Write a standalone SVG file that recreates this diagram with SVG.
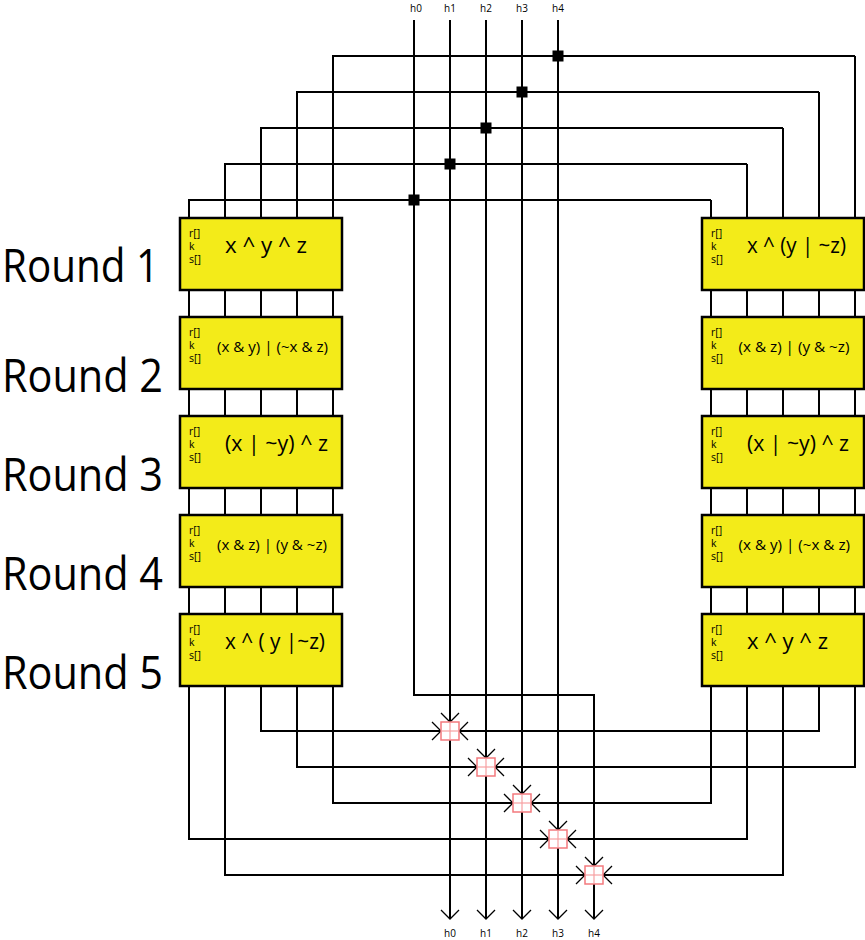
<svg xmlns="http://www.w3.org/2000/svg" width="865" height="940" viewBox="0 0 865 940">
<style>
text{font-family:"Open Sans","Noto Sans","Liberation Sans",sans-serif;fill:#000}
.ln{fill:none;stroke:#000;stroke-width:2}
.ar{marker-end:url(#arr)}
.box{fill:#f3eb19;stroke:#000;stroke-width:2.5}
.jn{fill:#000}
.addr{fill:#fff;stroke:#f3797d;stroke-width:1.5}
.addl{stroke:#f6a0a2;stroke-width:1.2}
.rnd{font-size:46px}
.lbl{font-size:10px;text-anchor:middle}
.reg{font-size:10.5px}
.f1{font-size:21px}
.f2{font-size:15px}
</style>
<defs>
<marker id="arr" viewBox="-10 -10 20 20" refX="0" refY="0" markerWidth="20" markerHeight="20" markerUnits="userSpaceOnUse" orient="auto" overflow="visible">
<path d="M-9,-9 L0,0 L-9,9" fill="none" stroke="#000" stroke-width="1.3"/>
</marker>
</defs>
<rect width="865" height="940" fill="#fff"/>

<g id="labels">
<text class="lbl" x="416" y="12">h0</text>
<text class="lbl" x="450" y="12">h1</text>
<text class="lbl" x="486" y="12">h2</text>
<text class="lbl" x="522" y="12">h3</text>
<text class="lbl" x="558" y="12">h4</text>
<text class="lbl" x="450" y="937">h0</text>
<text class="lbl" x="486" y="937">h1</text>
<text class="lbl" x="522" y="937">h2</text>
<text class="lbl" x="558" y="937">h3</text>
<text class="lbl" x="594" y="937">h4</text>
<text class="rnd" x="2" y="282" textLength="157" lengthAdjust="spacingAndGlyphs">Round 1</text>
<text class="rnd" x="2" y="392" textLength="161" lengthAdjust="spacingAndGlyphs">Round 2</text>
<text class="rnd" x="2" y="491" textLength="161" lengthAdjust="spacingAndGlyphs">Round 3</text>
<text class="rnd" x="2" y="590" textLength="161" lengthAdjust="spacingAndGlyphs">Round 4</text>
<text class="rnd" x="2" y="689" textLength="161" lengthAdjust="spacingAndGlyphs">Round 5</text>
</g>

<g id="connectors">
<path class="ln ar" d="M711,200 H189 V839 H549"/>
<path class="ln ar" d="M711,200 V803 H531"/>
<path class="ln ar" d="M747,164 H225 V875 H585"/>
<path class="ln ar" d="M747,164 V839 H567"/>
<path class="ln ar" d="M783,128 H261 V731 H441"/>
<path class="ln ar" d="M783,128 V875 H603"/>
<path class="ln ar" d="M819,92 H297 V767 H477"/>
<path class="ln ar" d="M819,92 V731 H459"/>
<path class="ln ar" d="M855,56 H333 V803 H513"/>
<path class="ln ar" d="M855,56 V767 H495"/>
<path class="ln ar" d="M414,20 V695 H594 V866"/>
<path class="ln ar" d="M450,20 V722"/>
<path class="ln ar" d="M486,20 V758"/>
<path class="ln ar" d="M522,20 V794"/>
<path class="ln ar" d="M558,20 V830"/>
<path class="ln ar" d="M450,740 V919"/>
<path class="ln ar" d="M486,776 V919"/>
<path class="ln ar" d="M522,812 V919"/>
<path class="ln ar" d="M558,848 V919"/>
<path class="ln ar" d="M594,884 V919"/>
</g>

<g id="junctions">
<rect class="jn" x="408.5" y="194.5" width="11" height="11"/>
<rect class="jn" x="444.5" y="158.5" width="11" height="11"/>
<rect class="jn" x="480.5" y="122.5" width="11" height="11"/>
<rect class="jn" x="516.5" y="86.5" width="11" height="11"/>
<rect class="jn" x="552.5" y="50.5" width="11" height="11"/>
</g>

<g id="L1">
<rect class="box" x="180" y="218" width="162" height="72"/>
<text class="reg" x="189" y="237">r[]</text><text class="reg" x="189" y="250">k</text><text class="reg" x="189" y="263">s[]</text>
<text class="f1" x="225" y="253" textLength="82" lengthAdjust="spacingAndGlyphs">x ^ y ^ z</text>
</g>
<g id="L2">
<rect class="box" x="180" y="317" width="162" height="72"/>
<text class="reg" x="189" y="336">r[]</text><text class="reg" x="189" y="349">k</text><text class="reg" x="189" y="362">s[]</text>
<text class="f2" x="217" y="352" textLength="111" lengthAdjust="spacingAndGlyphs">(x &amp; y) | (~x &amp; z)</text>
</g>
<g id="L3">
<rect class="box" x="180" y="416" width="162" height="72"/>
<text class="reg" x="189" y="435">r[]</text><text class="reg" x="189" y="448">k</text><text class="reg" x="189" y="461">s[]</text>
<text class="f1" x="225" y="451" textLength="103" lengthAdjust="spacingAndGlyphs">(x | ~y) ^ z</text>
</g>
<g id="L4">
<rect class="box" x="180" y="515" width="162" height="72"/>
<text class="reg" x="189" y="534">r[]</text><text class="reg" x="189" y="547">k</text><text class="reg" x="189" y="560">s[]</text>
<text class="f2" x="217" y="550" textLength="110" lengthAdjust="spacingAndGlyphs">(x &amp; z) | (y &amp; ~z)</text>
</g>
<g id="L5">
<rect class="box" x="180" y="614" width="162" height="72"/>
<text class="reg" x="189" y="633">r[]</text><text class="reg" x="189" y="646">k</text><text class="reg" x="189" y="659">s[]</text>
<text class="f1" x="225" y="649" textLength="100" lengthAdjust="spacingAndGlyphs">x ^ ( y |~z)</text>
</g>

<g id="R1">
<rect class="box" x="702" y="218" width="162" height="72"/>
<text class="reg" x="711" y="237">r[]</text><text class="reg" x="711" y="250">k</text><text class="reg" x="711" y="263">s[]</text>
<text class="f1" x="747" y="253" textLength="99" lengthAdjust="spacingAndGlyphs">x ^ (y | ~z)</text>
</g>
<g id="R2">
<rect class="box" x="702" y="317" width="162" height="72"/>
<text class="reg" x="711" y="336">r[]</text><text class="reg" x="711" y="349">k</text><text class="reg" x="711" y="362">s[]</text>
<text class="f2" x="738.5" y="352" textLength="111" lengthAdjust="spacingAndGlyphs">(x &amp; z) | (y &amp; ~z)</text>
</g>
<g id="R3">
<rect class="box" x="702" y="416" width="162" height="72"/>
<text class="reg" x="711" y="435">r[]</text><text class="reg" x="711" y="448">k</text><text class="reg" x="711" y="461">s[]</text>
<text class="f1" x="747" y="451" textLength="102" lengthAdjust="spacingAndGlyphs">(x | ~y) ^ z</text>
</g>
<g id="R4">
<rect class="box" x="702" y="515" width="162" height="72"/>
<text class="reg" x="711" y="534">r[]</text><text class="reg" x="711" y="547">k</text><text class="reg" x="711" y="560">s[]</text>
<text class="f2" x="738.5" y="550" textLength="111.5" lengthAdjust="spacingAndGlyphs">(x &amp; y) | (~x &amp; z)</text>
</g>
<g id="R5">
<rect class="box" x="702" y="614" width="162" height="72"/>
<text class="reg" x="711" y="633">r[]</text><text class="reg" x="711" y="646">k</text><text class="reg" x="711" y="659">s[]</text>
<text class="f1" x="747" y="649" textLength="81" lengthAdjust="spacingAndGlyphs">x ^ y ^ z</text>
</g>

<g id="add0">
<rect class="addr" x="441" y="722" width="18" height="18"/>
<line class="addl" x1="450" y1="723" x2="450" y2="739"/><line class="addl" x1="442" y1="731" x2="458" y2="731"/>
</g>
<g id="add1">
<rect class="addr" x="477" y="758" width="18" height="18"/>
<line class="addl" x1="486" y1="759" x2="486" y2="775"/><line class="addl" x1="478" y1="767" x2="494" y2="767"/>
</g>
<g id="add2">
<rect class="addr" x="513" y="794" width="18" height="18"/>
<line class="addl" x1="522" y1="795" x2="522" y2="811"/><line class="addl" x1="514" y1="803" x2="530" y2="803"/>
</g>
<g id="add3">
<rect class="addr" x="549" y="830" width="18" height="18"/>
<line class="addl" x1="558" y1="831" x2="558" y2="847"/><line class="addl" x1="550" y1="839" x2="566" y2="839"/>
</g>
<g id="add4">
<rect class="addr" x="585" y="866" width="18" height="18"/>
<line class="addl" x1="594" y1="867" x2="594" y2="883"/><line class="addl" x1="586" y1="875" x2="602" y2="875"/>
</g>
</svg>
